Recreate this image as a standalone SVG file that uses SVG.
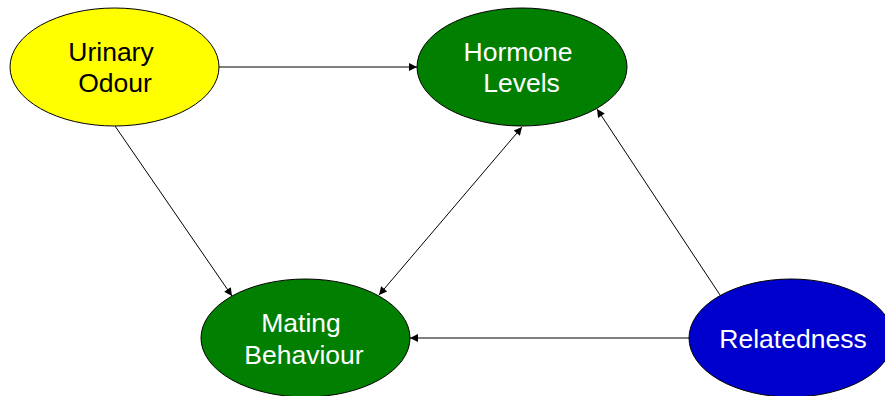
<svg xmlns="http://www.w3.org/2000/svg" width="885" height="396" viewBox="0 0 885 396">
<defs>
<marker id="arr" viewBox="0 0 10 10" refX="10" refY="5" markerWidth="10" markerHeight="8" markerUnits="userSpaceOnUse" orient="auto-start-reverse">
<path d="M0,0 L10,5 L0,10 Z" fill="#000"/>
</marker>
<style>
.node { stroke:#000; stroke-width:1; }
.lbl { font-family:"Liberation Sans", Arial, sans-serif; font-size:26.5px; text-anchor:middle; }
.edge { stroke:#000; stroke-width:1; fill:none; marker-end:url(#arr); }
</style>
</defs>
<rect width="885" height="396" fill="#fff"/>
<g id="connectors">
<line class="edge" x1="219" y1="67" x2="417" y2="67"/>
<line class="edge" x1="115" y1="126" x2="232" y2="296"/>
<line class="edge" x1="379" y1="295" x2="522" y2="127" marker-start="url(#arr)"/>
<line class="edge" x1="720" y1="295" x2="597" y2="109"/>
<line class="edge" x1="689" y1="338" x2="410" y2="338"/>
</g>
<g id="urinary-odour">
<ellipse class="node" cx="114.5" cy="67" rx="104.5" ry="59" fill="#FFFF00"/>
<text class="lbl" x="111" y="61" fill="#000">Urinary</text>
<text class="lbl" x="115" y="92" fill="#000">Odour</text>
</g>
<g id="hormone-levels">
<ellipse class="node" cx="522" cy="67" rx="105" ry="59" fill="#007F00"/>
<text class="lbl" x="518" y="61" fill="#fff">Hormone</text>
<text class="lbl" x="521.5" y="92" fill="#fff">Levels</text>
</g>
<g id="mating-behaviour">
<ellipse class="node" cx="305.5" cy="338" rx="104.5" ry="59" fill="#007F00"/>
<text class="lbl" x="301" y="332" fill="#fff">Mating</text>
<text class="lbl" x="304" y="364" fill="#fff">Behaviour</text>
</g>
<g id="relatedness">
<ellipse class="node" cx="791" cy="338" rx="102" ry="59" fill="#0000CC"/>
<text class="lbl" x="793" y="348" fill="#fff">Relatedness</text>
</g>
</svg>
